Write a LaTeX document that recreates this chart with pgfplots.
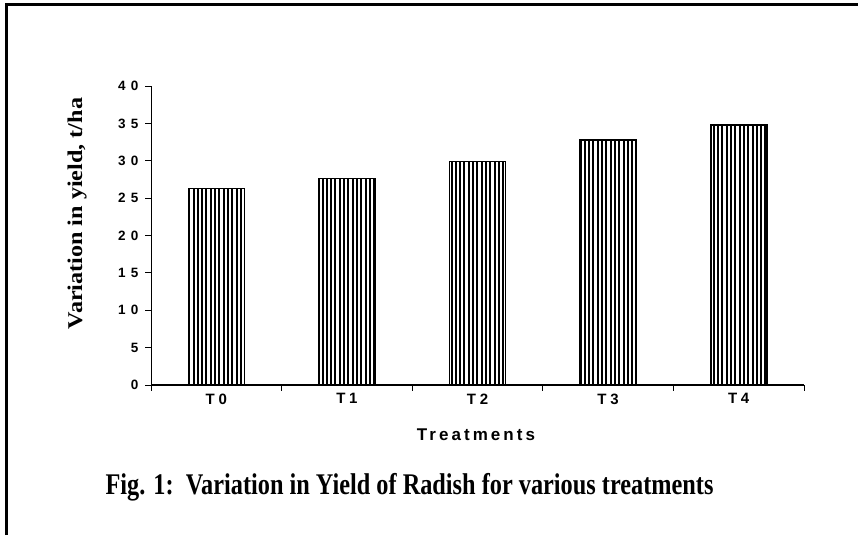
\documentclass[border=0pt]{standalone}
\usepackage{graphicx}
\usepackage{pgfplots}
\pgfplotsset{compat=1.18}
\usepackage{fontspec}
\setmainfont{Liberation Serif}
\newfontfamily\ytickfont[LetterSpace=40]{Liberation Sans Bold}
\newfontfamily\xtickfont[LetterSpace=25]{Liberation Sans Bold}
\newfontfamily\xlabfont[LetterSpace=18]{Liberation Sans Bold}
\newfontfamily\ylabfont[FakeStretch=1.15]{Liberation Serif Bold}
\newfontfamily\capfont[FakeStretch=0.81]{Liberation Serif Bold}
\newcommand\yt[1]{\scalebox{1.35}{\ytickfont\fontsize{10}{10}\selectfont #1}}
\newcommand\xt[1]{\scalebox{1.5}{\xtickfont\fontsize{10}{10}\selectfont #1}}
\usetikzlibrary{patterns.meta}
\begin{document}
\begin{tikzpicture}[x=1pt,y=1pt]
\path[use as bounding box] (0,0) rectangle (858,535);
\draw[line width=3pt] (6,0) -- (6,530) -- (858,530);
\begin{axis}[
  at={(151pt,150pt)}, anchor=south west,
  scale only axis, width=653pt, height=299pt,
  axis x line*=bottom, axis y line*=left,
  xmin=-0.5, xmax=4.5, ymin=0, ymax=40,
  ytick={0,5,...,40},
  yticklabels={{\yt{0}},{\yt{5}},{\yt{10}},{\yt{15}},{\yt{20}},{\yt{25}},{\yt{30}},{\yt{35}},{\yt{40}}},
  xtick={-0.5,0.5,...,4.5}, xticklabels={},
  extra x ticks={0,1,2,3,4},
  extra x tick labels={{\xt{T0}},{\xt{T1}},{\xt{T2}},{\xt{T3}},{\xt{T4}}},
  extra x tick style={major tick length=0pt},
  tick align=outside, major tick length=6pt,
  tick style={black, line width=0.8pt},
  x axis line style={line width=1.6pt},
  y axis line style={line width=0.9pt},
  yticklabel style={xshift=-3pt},
  xticklabel style={yshift=-5pt, anchor=north},
  xlabel={Treatments},
  xlabel style={font=\xlabfont\fontsize{17}{17}\selectfont, at={(rel axis cs:0.4977,-0.167)}, anchor=center},
  ylabel={Variation in yield, t/ha},
  ylabel style={font=\ylabfont\fontsize{21}{21}\selectfont, at={(rel axis cs:-0.1133,0.5736)}, anchor=center, rotate=0},
  ybar, bar width=56pt,
  clip=false,
]
\addplot[draw=black, line width=1.6pt,
  pattern={Lines[angle=90,distance=4.3pt,line width=2pt]}, pattern color=black]
  coordinates {(0,26.3) (1,27.6) (2,29.9) (3,32.8) (4,34.8)};
\end{axis}
\node[font=\capfont\fontsize{30}{30}\selectfont, anchor=center] at (409.5,48) {Fig. 1:\ \ Variation in Yield of Radish for various treatments};
\end{tikzpicture}
\end{document}
